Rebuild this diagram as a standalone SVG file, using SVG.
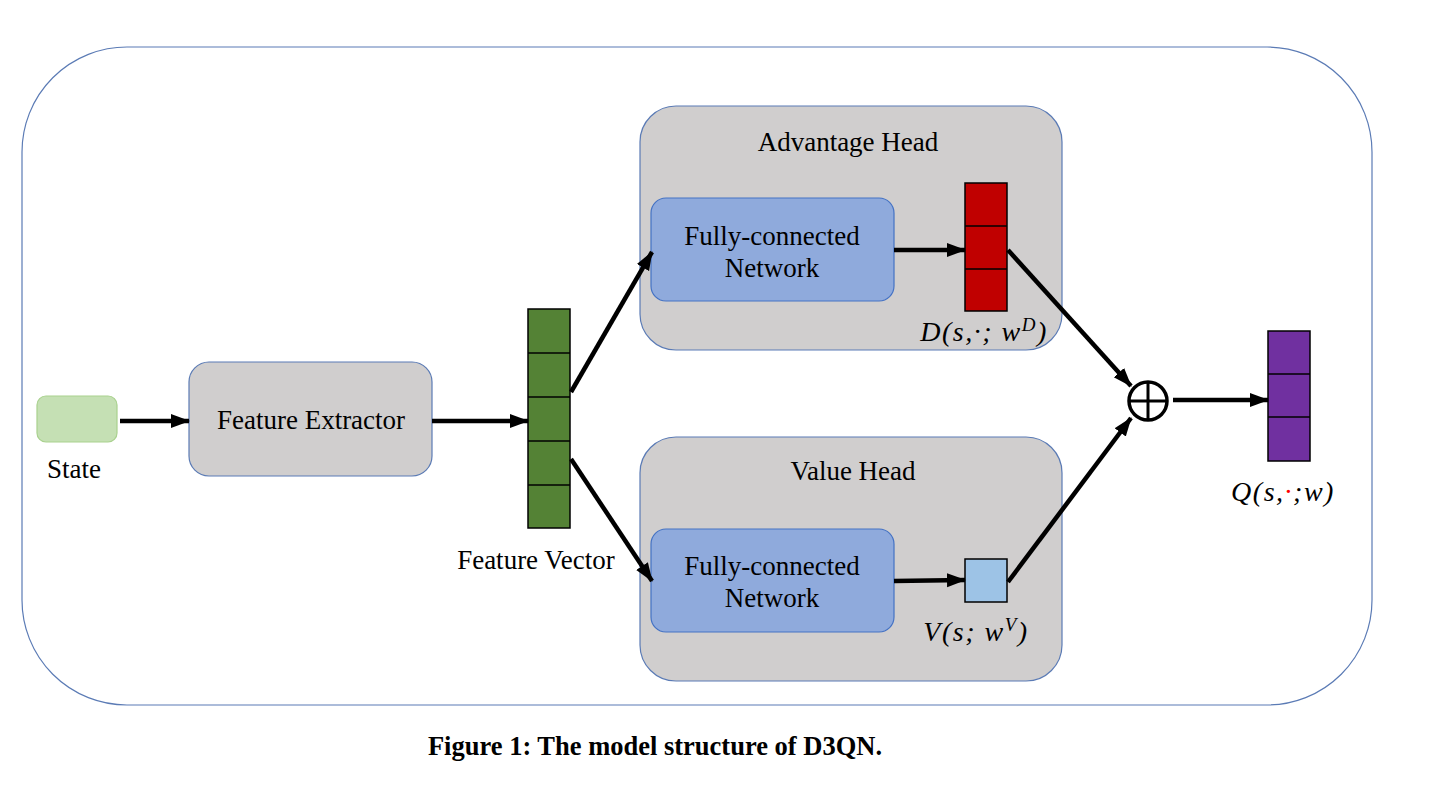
<svg xmlns="http://www.w3.org/2000/svg" width="1440" height="810" viewBox="0 0 1440 810">
<defs>
<marker id="ah" markerUnits="userSpaceOnUse" markerWidth="20" markerHeight="16" refX="18" refY="8" orient="auto">
<path d="M0,1 L19,8 L0,15 z" fill="#000"/>
</marker>
<style>
.t{font-family:"Liberation Serif","Times New Roman",serif;font-size:27px;fill:#000;text-anchor:middle}
.m{font-family:"Liberation Serif","Times New Roman",serif;font-style:italic;font-size:28px;letter-spacing:1.5px;fill:#000;text-anchor:middle}
.head{fill:#d0cece;stroke:#5b7bb5;stroke-width:1.2}
.fc{fill:#8faadc;stroke:#4472c4;stroke-width:1.2}
.cell{stroke:#000;stroke-width:1.5}
.c{fill:none;stroke:#000;stroke-width:4.5}
</style>
</defs>
<rect width="1440" height="810" fill="#fff"/>
<rect id="outer" x="22" y="47" width="1350" height="658" rx="105" fill="#fff" stroke="#5b7bb5" stroke-width="1.2"/>
<g id="state">
<rect x="37" y="396" width="80" height="46" rx="9" fill="#c5e0b4" stroke="#a9d18e" stroke-width="1.2"/>
<text class="t" x="74" y="478">State</text>
</g>
<g id="feature-extractor">
<rect x="189" y="362" width="243" height="114" rx="20" class="head"/>
<text class="t" x="311" y="429">Feature Extractor</text>
</g>
<g id="feature-vector">
<rect x="528" y="309" width="42" height="219" fill="#548235" class="cell"/>
<line x1="528" y1="353" x2="570" y2="353" class="cell"/>
<line x1="528" y1="397" x2="570" y2="397" class="cell"/>
<line x1="528" y1="441" x2="570" y2="441" class="cell"/>
<line x1="528" y1="485" x2="570" y2="485" class="cell"/>
<text class="t" x="536" y="569">Feature Vector</text>
</g>
<g id="advantage-head">
<rect x="640" y="106" width="422" height="244" rx="36" class="head"/>
<text class="t" x="848" y="151">Advantage Head</text>
<rect x="651" y="198" width="243" height="103" rx="15" class="fc"/>
<text class="t" x="772" y="245">Fully-connected</text>
<text class="t" x="772" y="277">Network</text>
</g>
<g id="advantage-vector">
<rect x="965" y="183" width="42" height="128" fill="#c00000" class="cell"/>
<line x1="965" y1="226" x2="1007" y2="226" class="cell"/>
<line x1="965" y1="269" x2="1007" y2="269" class="cell"/>
<text class="m" x="984" y="341">D(s,·; w<tspan font-size="19" dy="-10">D</tspan><tspan dy="10">)</tspan></text>
</g>
<g id="value-head">
<rect x="640" y="437" width="422" height="244" rx="36" class="head"/>
<text class="t" x="853" y="480">Value Head</text>
<rect x="651" y="529" width="243" height="103" rx="15" class="fc"/>
<text class="t" x="772" y="575">Fully-connected</text>
<text class="t" x="772" y="607">Network</text>
</g>
<g id="value-vector">
<rect x="965" y="559" width="42" height="43" fill="#9dc3e6" class="cell"/>
<text class="m" x="976" y="641">V(s; w<tspan font-size="19" dy="-10">V</tspan><tspan dy="10">)</tspan></text>
</g>
<g id="sum">
<circle cx="1148" cy="401" r="19" fill="#fff" stroke="#000" stroke-width="3.5"/>
<line x1="1129" y1="401" x2="1167" y2="401" stroke="#000" stroke-width="3"/>
<line x1="1148" y1="382" x2="1148" y2="420" stroke="#000" stroke-width="3"/>
</g>
<g id="q-vector">
<rect x="1268" y="331" width="42" height="130" fill="#7030a0" class="cell"/>
<line x1="1268" y1="374" x2="1310" y2="374" class="cell"/>
<line x1="1268" y1="417" x2="1310" y2="417" class="cell"/>
<text class="m" x="1283" y="501">Q(s,<tspan fill="#ff0000">·</tspan>;w)</text>
</g>
<g id="connectors">
<line x1="120" y1="421" x2="189" y2="421" class="c" marker-end="url(#ah)"/>
<line x1="432" y1="421" x2="528" y2="421" class="c" marker-end="url(#ah)"/>
<line x1="571" y1="392" x2="652" y2="252" class="c" marker-end="url(#ah)"/>
<line x1="571" y1="459" x2="652" y2="581" class="c" marker-end="url(#ah)"/>
<line x1="894" y1="250" x2="965" y2="250" class="c" marker-end="url(#ah)"/>
<line x1="894" y1="581" x2="965" y2="580" class="c" marker-end="url(#ah)"/>
<line x1="1008" y1="250" x2="1131" y2="386" class="c" marker-end="url(#ah)"/>
<line x1="1008" y1="582" x2="1131" y2="418" class="c" marker-end="url(#ah)"/>
<line x1="1173" y1="400" x2="1268" y2="400" class="c" marker-end="url(#ah)"/>
</g>
<text x="655" y="755" font-family="Liberation Serif,'Times New Roman',serif" font-weight="bold" font-size="26.5" text-anchor="middle">Figure 1: The model structure of D3QN.</text>
</svg>
